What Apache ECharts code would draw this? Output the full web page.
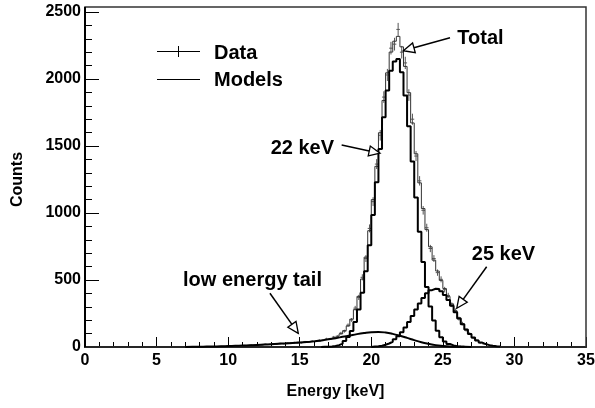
<!DOCTYPE html>
<html><head><meta charset="utf-8">
<script src="https://cdn.jsdelivr.net/npm/echarts@6/dist/echarts.min.js"></script>
<style>html,body{margin:0;padding:0;background:#fff}#main{width:595px;height:408px}</style>
</head><body><div id="main"></div>
<script>
// ---------- data ----------
const BIN_WIDTH = 0.25;                 // keV
const xTickLabels = ['0','5','10','15','20','25','30','35'];
const yTickLabels = ['0','500','1000','1500','2000','2500'];

// Total model histogram (bins of 0.25 keV starting at 8.0 keV)
const totalFirstEdge = 8.0;
const totalCounts = [2,3,3,4,4,5,5,6,7,8,9,10,11,12,13,14,16,17,19,20,22,23,25,26,28,29,31,32,34,36,38,41,44,
  47,52,57,63,71,82,98,122,157,208,279,378,507,671,868,1100,1348,1599,1840,2046,2201,2282,2318,2240,2094,
  1898,1672,1442,1225,1033,876,748,648,567,497,436,378,322,268,218,170,130,97,70,49,33,22,14,9,5,3];

// 22 keV component (starting at 16.5 keV)
const peak22FirstEdge = 16.5;
const peak22Counts = [1,2,4,7,14,25,44,74,120,186,280,405,565,760,985,1230,1478,1714,1915,2062,2130,2150,
  2050,1877,1648,1385,1116,860,634,448,303,197,122,72,41,22,12,6,3,1];

// 25 keV component (starting at 20.0 keV)
const peak25FirstEdge = 20.0;
const peak25Counts = [4,6,10,17,26,39,57,80,110,145,186,232,279,325,366,401,424,435,433,416,388,351,307,260,
  213,169,130,97,70,49,33,22,14,9,5,3];

// low energy tail (smooth curve)
const tailEnergy = [7,7.5,8,8.5,9,9.5,10,10.5,11,11.5,12,12.5,13,13.5,14,14.5,15,15.5,16,16.5,17,17.5,18,18.5,
  19,19.5,20,20.5,21,21.5,22,22.5,23,23.5,24,24.5,25,25.5,26,26.5,27];
const tailCounts = [0,1,2,3,4,5,7,9,11,13,15,18,21,24,27,30,33,37,42,49,57,66,76,86,96,104,110,112,108,98,84,
  68,51,36,24,14,8,4,2,1,0];

// measured data (bin centres from 10.125 keV)
const dataFirstCentre = 10.125;
const dataCounts = [8,7,10,9,12,11,14,13,17,16,21,19,24,22,27,25,30,27,33,35,32,39,36,44,42,50,49,61,60,74,80,103,
  118,163,202,290,370,520,660,885,1085,1365,1580,1865,2030,2230,2260,2370,2200,2120,1880,1700,1425,1240,1020,890,
  735,660,555,505,428,385,315,272,212,175,126,100,67,51,31,23];
const dataErrors = [2.8,2.6,3.2,3,3.5,3.3,3.7,3.6,4.1,4,4.6,4.4,4.9,4.7,5.2,5,5.5,5.2,5.7,5.9,5.7,6.2,6,6.6,
  6.5,7.1,7,7.8,7.7,8.6,8.9,10.1,10.9,12.8,14.2,17,19.2,22.8,25.7,29.7,32.9,36.9,39.7,43.2,45.1,47.2,47.5,48.7,
  46.9,46,43.4,41.2,37.7,35.2,31.9,29.8,27.1,25.7,23.6,22.5,20.7,19.6,17.7,16.5,14.6,13.2,11.2,10,8.2,7.1,5.6,4.8];

// ---------- build ----------
function histLine(firstEdge, counts) {
  const pts = [[firstEdge, 0]];
  counts.forEach((c, i) => pts.push([firstEdge + i * BIN_WIDTH, c]));
  const last = firstEdge + counts.length * BIN_WIDTH;
  pts.push([last, counts[counts.length - 1]]);
  pts.push([last, 0]);
  return pts;
}
const dataPts = dataCounts.map((c, i) => [dataFirstCentre + i * BIN_WIDTH, c, dataErrors[i]]);
const tailPts = tailEnergy.map((e, i) => [e, tailCounts[i]]);

const FONT = "'Liberation Sans', Arial, Helvetica, sans-serif";
const chart = echarts.init(document.getElementById('main'), null, {renderer: 'canvas'});

const option = {
  animation: false,
  backgroundColor: '#fff',
  grid: {left: 85, right: 9, top: 12, bottom: 61, containLabel: false, outerBoundsMode: 'none'},
  xAxis: {
    type: 'value', min: 0, max: 35, interval: 5,
    name: 'Energy [keV]', nameLocation: 'middle', nameGap: 37,
    nameTextStyle: {fontFamily: FONT, fontWeight: 'bold', fontSize: 16, color: '#000'},
    axisLine: {show: true, onZero: false, lineStyle: {color: '#000', width: 2}},
    axisTick: {show: true, inside: true, length: 10, lineStyle: {color: '#000', width: 1}},
    minorTick: {show: true, splitNumber: 5, length: 5, lineStyle: {color: '#000', width: 1}},
    splitLine: {show: false}, minorSplitLine: {show: false},
    axisLabel: {fontFamily: FONT, fontWeight: 'bold', fontSize: 16, color: '#000', margin: 6,
      formatter: v => xTickLabels[Math.round(v / 5)] ?? ''}
  },
  yAxis: {
    type: 'value', min: 0, max: 2500, interval: 500,
    name: 'Counts', nameLocation: 'middle', nameGap: 59, nameRotate: 90,
    nameTextStyle: {fontFamily: FONT, fontWeight: 'bold', fontSize: 16, color: '#000'},
    axisLine: {show: true, onZero: false, lineStyle: {color: '#000', width: 2}},
    axisTick: {show: true, inside: true, length: 14, lineStyle: {color: '#000', width: 1}},
    minorTick: {show: true, splitNumber: 5, length: 7, lineStyle: {color: '#000', width: 1}},
    splitLine: {show: false}, minorSplitLine: {show: false},
    axisLabel: {fontFamily: FONT, fontWeight: 'bold', fontSize: 16, color: '#000', margin: 4,
      formatter: v => yTickLabels[Math.round(v / 500)] ?? ''}
  },
  series: [
    {
      name: 'Data', type: 'custom', z: 2,
      data: dataPts, encode: {x: 0, y: 1},
      renderItem: function (params, api) {
        const x = api.value(0), y = api.value(1), e = api.value(2);
        const c = api.coord([x, y]);
        const t = api.coord([x, y + e]);
        const b = api.coord([x, y - e]);
        const l = api.coord([x - BIN_WIDTH / 2, y]);
        const r = api.coord([x + BIN_WIDTH / 2, y]);
        const st = {stroke: '#555', lineWidth: 1};
        return {type: 'group', children: [
          {type: 'line', shape: {x1: t[0], y1: t[1], x2: b[0], y2: b[1]}, style: st},
          {type: 'line', shape: {x1: l[0], y1: c[1], x2: r[0], y2: c[1]}, style: st}
        ]};
      }
    },
    {name: 'Total', type: 'line', step: 'end', symbol: 'none', z: 3, data: histLine(totalFirstEdge, totalCounts),
      lineStyle: {color: '#333', width: 1}},
    {name: 'low energy tail', type: 'line', smooth: true, symbol: 'none', z: 4, data: tailPts,
      lineStyle: {color: '#000', width: 2}},
    {name: '25 keV', type: 'line', step: 'end', symbol: 'none', z: 4, data: histLine(peak25FirstEdge, peak25Counts),
      lineStyle: {color: '#000', width: 2}},
    {name: '22 keV', type: 'line', step: 'end', symbol: 'none', z: 5, data: histLine(peak22FirstEdge, peak22Counts),
      lineStyle: {color: '#000', width: 2}}
  ]
};
chart.setOption(option);

// ---------- annotations ----------
const P = p => chart.convertToPixel({gridIndex: 0}, p);
function arrow(from, to) {
  const a = P(from), b = P(to);
  const dx = b[0] - a[0], dy = b[1] - a[1], L = Math.hypot(dx, dy);
  const ux = dx / L, uy = dy / L, hl = 11, hw = 5;
  const bx = b[0] - ux * hl, by = b[1] - uy * hl;
  return [
    {type: 'line', z: 20, shape: {x1: a[0], y1: a[1], x2: bx, y2: by}, style: {stroke: '#000', lineWidth: 1.5}},
    {type: 'polygon', z: 20, shape: {points: [[b[0], b[1]], [bx - uy * hw, by + ux * hw], [bx + uy * hw, by - ux * hw]]},
      style: {fill: '#fff', stroke: '#000', lineWidth: 1.3}}
  ];
}
function label(txt, at, size) {
  const p = P(at);
  return {type: 'text', z: 20, x: p[0], y: p[1],
    style: {text: txt, fill: '#000', font: 'bold ' + size + 'px ' + FONT, textAlign: 'left', textVerticalAlign: 'middle'}};
}
const o = P([0, 0]), xr = P([35, 0]), topP = P([0, 2537]);
const g = [
  {type: 'rect', z: 1, shape: {x: o[0], y: topP[1], width: xr[0] - o[0], height: o[1] - topP[1]},
    style: {fill: 'none', stroke: '#333', lineWidth: 1.5}},
  {type: 'line', z: 20, shape: {x1: o[0], y1: topP[1], x2: o[0], y2: o[1]}, style: {stroke: '#000', lineWidth: 2}},
  // legend
  {type: 'line', z: 20, shape: {x1: 157, y1: 51.5, x2: 200, y2: 51.5}, style: {stroke: '#000', lineWidth: 1}},
  {type: 'line', z: 20, shape: {x1: 178.5, y1: 46, x2: 178.5, y2: 57}, style: {stroke: '#000', lineWidth: 1}},
  {type: 'text', z: 20, x: 214, y: 53, style: {text: 'Data', fill: '#000', font: 'bold 20px ' + FONT, textVerticalAlign: 'middle'}},
  {type: 'line', z: 20, shape: {x1: 157, y1: 79.5, x2: 200, y2: 79.5}, style: {stroke: '#000', lineWidth: 1}},
  {type: 'text', z: 20, x: 214, y: 80, style: {text: 'Models', fill: '#000', font: 'bold 20px ' + FONT, textVerticalAlign: 'middle'}},
  label('Total', [26.01, 2303], 20),
  label('22 keV', [12.97, 1480], 20),
  label('25 keV', [27.02, 692], 20),
  label('low energy tail', [6.85, 500], 20)
]
  .concat(arrow([25.5, 2308], [22.24, 2211]))
  .concat(arrow([17.93, 1507], [20.61, 1446]))
  .concat(arrow([28.06, 599], [25.97, 289]))
  .concat(arrow([12.92, 401], [14.90, 102]));
chart.setOption({graphic: g});
</script></body></html>
